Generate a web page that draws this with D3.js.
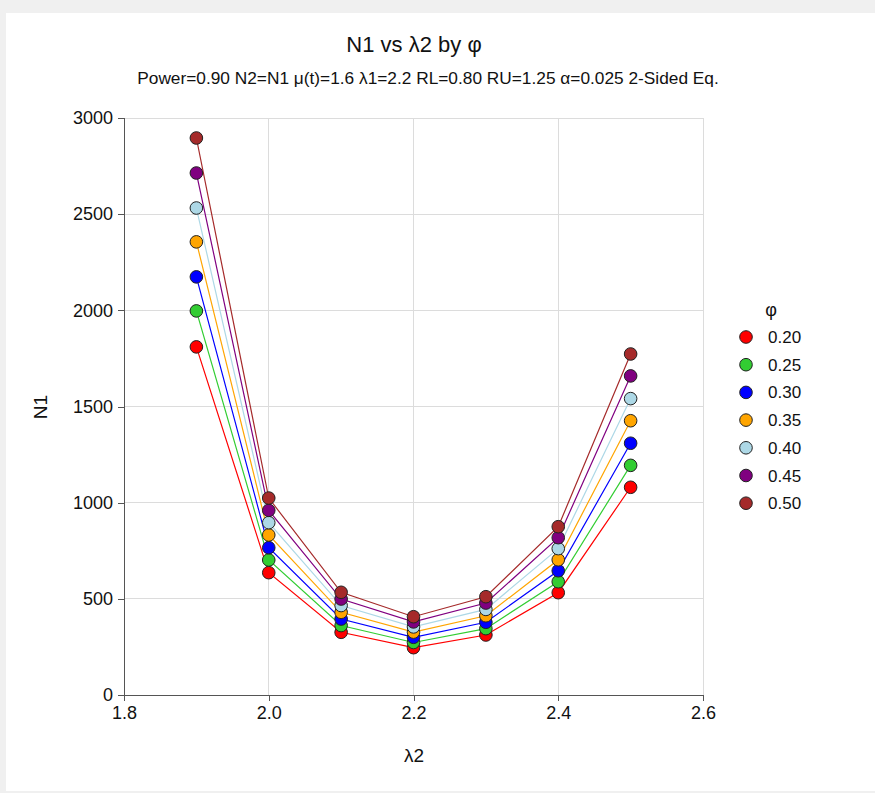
<!DOCTYPE html>
<html>
<meta charset="utf-8">
<style>
  body { margin: 0; background: #f0f0f0; }
  svg { display: block; font-family: Arial, "Liberation Sans", sans-serif; }
  .grid line { stroke: #dcdcdc; shape-rendering: crispEdges; }
  .axis path, .axis line { stroke: #555; shape-rendering: crispEdges; }
  .axis text { font-size: 18px; fill: #111; }
</style>
<body>
<svg width="875" height="793"></svg>
<script src="https://d3js.org/d3.v7.min.js"></script>
<script>

var lambda2 = [1.9, 2.0, 2.1, 2.2, 2.3, 2.4, 2.5];
var phis = ["0.20", "0.25", "0.30", "0.35", "0.40", "0.45", "0.50"];
var colors = ["#ff0000", "#32cd32", "#0000ff", "#ffa500", "#add8e6", "#800080", "#a52a2a"];

// N1 per phi, one value per lambda2
var n020 = [1810, 636, 326, 246, 312, 532, 1080];
var n025 = [1997, 702, 361, 273, 345, 589, 1194];
var n030 = [2174, 766, 395, 300, 378, 646, 1309];
var n035 = [2356, 832, 430, 327, 412, 703, 1426];
var n040 = [2532, 896, 465, 354, 445, 761, 1541];
var n045 = [2714, 960, 499, 380, 478, 818, 1659];
var n050 = [2896, 1024, 534, 407, 511, 875, 1773];
var series = [n020, n025, n030, n035, n040, n045, n050];

var xTicks = [1.8, 2.0, 2.2, 2.4, 2.6];
var yTicks = [0, 500, 1000, 1500, 2000, 2500, 3000];

var svg = d3.select("svg");

// white panel
svg.append("rect").attr("x", 6).attr("y", 13).attr("width", 869).attr("height", 778).attr("fill", "#fff");

var pLeft = 124, pRight = 703, pTop = 118, pBottom = 695;

var x = d3.scaleLinear().domain([1.8, 2.6]).range([pLeft, pRight]);
var y = d3.scaleLinear().domain([0, 3000]).range([pBottom, pTop]);

// grid
var grid = svg.append("g").attr("class", "grid");
grid.selectAll("line.v").data(xTicks.slice(1)).enter().append("line")
  .attr("x1", function(d) { return x(d); }).attr("x2", function(d) { return x(d); })
  .attr("y1", pTop).attr("y2", pBottom);
grid.selectAll("line.h").data(yTicks.slice(1)).enter().append("line")
  .attr("y1", function(d) { return y(d); }).attr("y2", function(d) { return y(d); })
  .attr("x1", pLeft).attr("x2", pRight);

// axes
var xAxis = d3.axisBottom(x).tickValues(xTicks).tickFormat(d3.format(".1f")).tickSizeOuter(0).tickSize(6).tickPadding(5);
var yAxis = d3.axisLeft(y).tickValues(yTicks).tickFormat(d3.format("d")).tickSizeOuter(0).tickSize(6).tickPadding(5);

svg.append("g").attr("class", "x axis")
  .attr("transform", "translate(0," + pBottom + ")")
  .call(xAxis);
svg.append("g").attr("class", "y axis")
  .attr("transform", "translate(" + pLeft + ",0)")
  .call(yAxis);

// lines
var line = d3.line()
  .x(function(d, i) { return x(lambda2[i]); })
  .y(function(d) { return y(d); });

series.forEach(function(s, k) {
  svg.append("path").datum(s)
    .attr("d", line)
    .attr("fill", "none")
    .attr("stroke", colors[k])
    .attr("stroke-width", 1.2);
});

// points
series.forEach(function(s, k) {
  svg.append("g").selectAll("circle").data(s).enter().append("circle")
    .attr("cx", function(d, i) { return x(lambda2[i]); })
    .attr("cy", function(d) { return y(d); })
    .attr("r", 6.3)
    .attr("fill", colors[k])
    .attr("stroke", "#222")
    .attr("stroke-width", 1);
});

// titles
svg.append("text").attr("x", 414).attr("y", 52).attr("text-anchor", "middle")
  .attr("font-size", 22).attr("fill", "#111").text("N1 vs λ2 by φ");
svg.append("text").attr("x", 428).attr("y", 84).attr("text-anchor", "middle")
  .attr("font-size", 17.3).attr("fill", "#111")
  .text("Power=0.90 N2=N1 μ(t)=1.6 λ1=2.2 RL=0.80 RU=1.25 α=0.025 2-Sided Eq.");

svg.append("text").attr("x", 414).attr("y", 762).attr("text-anchor", "middle")
  .attr("font-size", 19).attr("fill", "#111").text("λ2");
svg.append("text").attr("transform", "translate(47,407) rotate(-90)").attr("text-anchor", "middle")
  .attr("font-size", 19).attr("fill", "#111").text("N1");

// legend
var legend = svg.append("g");
legend.append("text").attr("x", 771).attr("y", 316).attr("text-anchor", "middle")
  .attr("font-size", 18).attr("fill", "#111").text("φ");
var items = legend.selectAll("g.item").data(phis).enter().append("g")
  .attr("transform", function(d, i) { return "translate(746," + (337 + i * 27.7) + ")"; });
items.append("circle").attr("r", 6.3)
  .attr("fill", function(d, i) { return colors[i]; })
  .attr("stroke", "#222").attr("stroke-width", 1);
items.append("text").attr("x", 22).attr("y", 6)
  .attr("font-size", 17).attr("fill", "#111").text(function(d) { return d; });

</script>
</body>
</html>
